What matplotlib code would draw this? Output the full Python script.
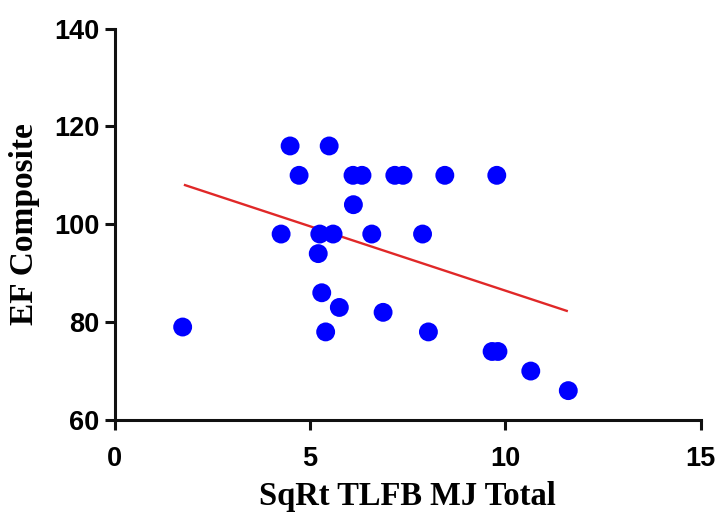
import matplotlib
matplotlib.use("Agg")
import matplotlib.pyplot as plt

# values
mj_total = [1.74, 4.26, 4.49, 4.72, 5.21, 5.25, 5.59, 5.30, 5.40, 5.49, 5.75,
            6.11, 6.10, 6.33, 6.58, 6.87, 7.17, 7.38, 7.88, 8.03, 8.45, 9.78,
            9.66, 9.81, 10.65, 11.61]
ef_composite = [79, 98, 116, 110, 94, 98, 98, 86, 78, 116, 83,
                104, 110, 110, 98, 82, 110, 110, 98, 78, 110, 110,
                74, 74, 70, 66]

# regression line end points
fit_x = [1.80, 11.57]
fit_y = [108.0, 82.3]

xticks = [0, 5, 10, 15]
yticks = [60, 80, 100, 120, 140]

fig = plt.figure(figsize=(7.19, 5.12), dpi=100)
ax = fig.add_axes([0.1595, 0.1797, 0.8151, 0.7646])

ax.scatter(mj_total, ef_composite, s=185, color="#0000ff", edgecolors="none",
           zorder=3, clip_on=False)
ax.plot(fit_x, fit_y, color="#e02828", lw=1.7, zorder=2)

ax.set_xlim(0, 15)
ax.set_ylim(60, 140)
ax.set_xticks(xticks)
ax.set_yticks(yticks)

for s in ["top", "right"]:
    ax.spines[s].set_visible(False)
for s in ["left", "bottom"]:
    ax.spines[s].set_linewidth(2.2)
    ax.spines[s].set_color("#111111")

ax.tick_params(axis="both", direction="out", length=7, width=2.2, colors="#111111")
ax.tick_params(axis="x", pad=12)
ax.tick_params(axis="y", pad=4)
for lab in ax.get_xticklabels() + ax.get_yticklabels():
    lab.set_fontfamily("Liberation Sans")
    lab.set_fontweight("bold")
    lab.set_fontsize(19.5)
    lab.set_color("black")

ax.set_xlabel("SqRt TLFB MJ Total", fontfamily="Liberation Serif",
              fontweight="bold", fontsize=23.5, labelpad=6)
ax.set_ylabel("EF Composite", fontfamily="Liberation Serif",
              fontweight="bold", fontsize=24, labelpad=10)

fig.savefig("out.png", dpi=100)
